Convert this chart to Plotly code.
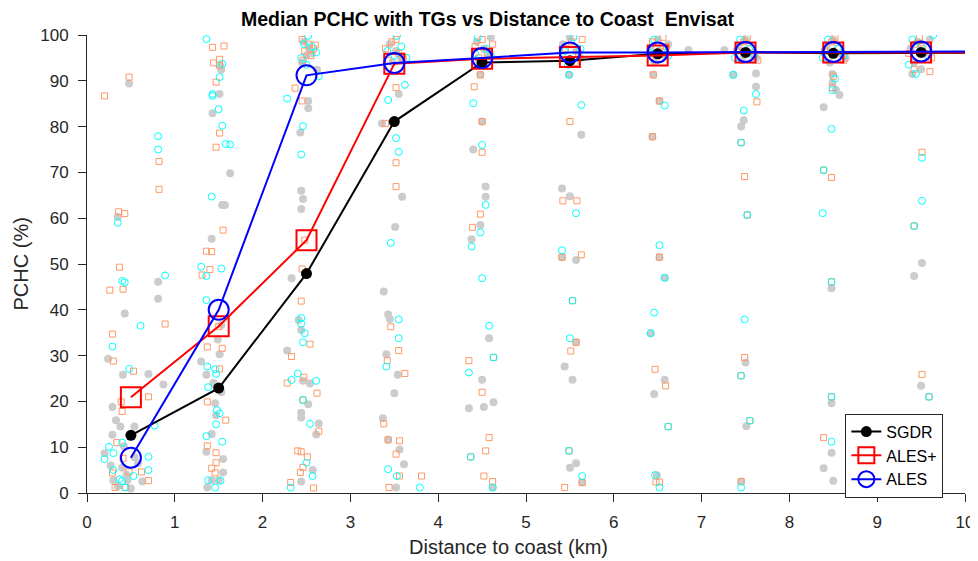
import plotly.graph_objects as go

# ---------------- data ----------------
bins = [0.5, 1.5, 2.5, 3.5, 4.5, 5.5, 6.5, 7.5, 8.5, 9.5, 10.5]
sgdr_med = [12.6, 22.9, 47.9, 81.1, 94.0, 94.4, 95.9, 96.2, 96.0, 96.2, 96.2]
alesp_med = [20.9, 36.4, 55.2, 93.7, 94.8, 95.2, 95.5, 96.2, 96.2, 96.2, 96.2]
ales_med = [7.7, 40.0, 91.2, 93.9, 95.0, 96.2, 96.2, 96.3, 96.3, 96.4, 96.4]

# individual tide-gauge values (jittered distance, PCHC %)
sgdr_x = [0.48, 0.35, 0.81, 0.81, 0.43, 0.24, 0.41, 0.70, 0.87, 0.29, 0.33, 0.38, 0.54, 0.29, 0.20, 0.54, 0.30, 0.46, 0.63, 0.40, 0.45, 0.35, 0.50, 0.58, 0.27, 0.42,
          1.52, 1.53, 1.51, 1.43, 1.63, 1.54, 1.57, 1.42, 1.53, 1.51, 1.30, 1.36, 1.46, 1.42, 1.36, 1.55, 1.42, 1.50, 1.37, 1.47, 1.53, 1.49, 1.55, 1.44,
          2.47, 2.53, 2.50, 2.45, 2.56, 2.62, 2.52, 2.52, 2.43, 2.44, 2.46, 2.44, 2.33, 2.41, 2.44, 2.28, 2.46, 2.54, 2.52, 2.44, 2.44, 2.64, 2.61, 2.57, 2.44,
          3.45, 3.52, 3.58, 3.48, 3.55, 3.36, 3.59, 3.51, 3.38, 3.43, 3.45, 3.41, 3.54, 3.50, 3.37, 3.43, 3.56, 3.61, 3.52,
          4.44, 4.52, 4.58, 4.47, 4.60, 4.48, 4.50, 4.40, 4.54, 4.54, 4.48, 4.38, 4.58, 4.50, 4.35, 4.52, 4.63, 4.62,
          5.42, 5.50, 5.57, 5.62, 5.47, 5.49, 5.63, 5.41, 5.50, 5.41, 5.57, 5.44, 5.53, 5.57, 5.57, 5.50, 5.64,
          6.42, 6.50, 6.58, 6.62, 6.46, 6.45, 6.52, 6.44, 6.52, 6.58, 6.42, 6.58, 6.46, 6.49, 6.85,
          7.42, 7.50, 7.58, 7.62, 7.46, 7.62, 7.36, 7.62, 7.48, 7.45, 7.50, 7.51, 7.45, 7.26,
          8.42, 8.50, 8.58, 8.64, 8.46, 8.49, 8.53, 8.49, 8.57, 8.39, 8.48, 8.48, 8.48, 8.39, 8.50,
          9.38, 9.46, 9.54, 9.60, 9.42, 9.50, 9.40, 9.51, 9.42, 9.50]
sgdr_y = [89.4, 60.3, 46.1, 42.4, 39.2, 29.3, 25.8, 26.0, 23.7, 18.8, 15.9, 14.5, 14.5, 12.7, 8.7, 7.8, 2.8, 2.8, 2.5, 5.5, 4.0, 1.5, 1.0, 6.5, 6.0, 10.2,
          93.1, 92.4, 87.1, 82.9, 69.8, 62.9, 62.9, 55.5, 36.7, 30.3, 28.7, 25.8, 19.6, 12.9, 9.0, 7.4, 2.8, 2.8, 1.2, 17.0, 22.0, 33.5, 4.5, 24.0,
          98.5, 97.0, 95.5, 94.0, 96.0, 92.4, 85.6, 84.0, 78.7, 66.0, 64.2, 62.0, 46.9, 37.8, 35.6, 31.1, 24.5, 23.9, 19.4, 17.5, 16.5, 15.2, 12.8, 5.0, 2.5,
          98.0, 96.5, 95.0, 94.0, 87.1, 80.7, 64.7, 58.1, 44.0, 39.0, 38.0, 30.3, 25.8, 21.8, 16.3, 11.6, 9.5, 6.3, 1.2,
          98.5, 97.0, 95.5, 94.0, 99.5, 91.3, 81.1, 75.0, 66.9, 64.7, 58.5, 55.4, 33.8, 24.7, 18.5, 18.8, 19.8, 1.2,
          98.0, 99.5, 96.5, 95.0, 94.5, 91.3, 78.2, 66.5, 64.8, 51.5, 50.9, 27.6, 24.7, 32.9, 6.5, 5.5, 2.3,
          97.0, 99.0, 95.5, 98.0, 94.0, 91.3, 85.6, 77.8, 51.5, 47.0, 34.9, 24.7, 21.6, 3.9, 96.7,
          97.5, 99.0, 96.0, 95.0, 94.5, 91.6, 91.3, 88.7, 81.4, 80.0, 28.5, 14.6, 2.5, 96.7,
          97.5, 99.0, 96.0, 95.0, 94.0, 91.5, 88.0, 89.5, 86.9, 84.2, 44.7, 19.6, 8.8, 5.4, 2.7,
          97.0, 98.5, 96.0, 99.0, 94.0, 92.5, 91.5, 50.2, 47.4, 23.4]

alesp_x = [0.48, 0.20, 0.82, 0.82, 0.36, 0.43, 0.37, 0.41, 0.26, 0.89, 0.29, 0.30, 0.53, 0.70, 0.39, 0.40, 0.34, 0.41, 0.29, 0.48, 0.62, 0.70, 0.32, 0.44,
           1.43, 1.56, 1.51, 1.44, 1.51, 1.47, 1.51, 1.47, 1.55, 1.36, 1.42, 1.40, 1.31, 1.50, 1.37, 1.54, 1.51, 1.37, 1.58, 1.37, 1.47, 1.47, 1.42, 1.46,
           2.45, 2.52, 2.58, 2.48, 2.55, 2.46, 2.60, 2.37, 2.45, 2.48, 2.45, 2.44, 2.54, 2.33, 2.28, 2.47, 2.62, 2.46, 2.64, 2.40, 2.44, 2.51, 2.46, 2.43, 2.32, 2.58,
           3.40, 3.47, 3.55, 3.60, 3.43, 3.52, 3.52, 3.40, 3.52, 3.52, 3.46, 3.55, 3.42, 3.62, 3.38, 3.43, 3.56, 3.52, 3.56, 3.81, 3.44,
           4.42, 4.50, 4.56, 4.62, 4.46, 4.48, 4.41, 4.50, 4.50, 4.48, 4.39, 4.63, 4.35, 4.50, 4.58, 4.54, 4.37, 4.52, 4.62,
           5.45, 5.52, 5.60, 5.56, 5.64, 5.50, 5.42, 5.58, 5.41, 5.63, 5.53, 5.57, 5.51, 5.49, 5.64, 5.44,
           6.44, 6.52, 6.60, 6.48, 6.56, 6.45, 6.52, 6.44, 6.52, 6.47, 6.59, 6.62, 6.48, 6.52,
           7.40, 7.48, 7.56, 7.64, 7.52, 7.63, 7.45, 7.49, 7.52, 7.49, 7.45, 7.55, 7.45,
           8.40, 8.48, 8.56, 8.62, 8.52, 8.50, 8.49, 8.39, 8.48, 8.48, 8.48, 8.39,
           9.36, 9.44, 9.52, 9.62, 9.48, 9.42, 9.60, 9.51, 9.42, 9.51, 9.59]
alesp_y = [90.8, 86.7, 72.4, 66.3, 61.4, 61.0, 49.3, 44.5, 44.3, 36.9, 34.7, 28.8, 26.6, 21.0, 19.9, 17.8, 11.0, 7.6, 4.4, 4.6, 4.6, 2.7, 1.2, 1.2,
           97.3, 97.6, 94.7, 93.9, 93.4, 89.7, 78.6, 75.5, 57.4, 52.8, 52.7, 48.8, 47.6, 36.3, 31.9, 31.6, 27.1, 19.9, 15.9, 10.3, 8.8, 6.6, 5.4, 4.4,
           99.0, 98.0, 97.0, 96.5, 95.5, 94.5, 97.8, 88.4, 85.6, 55.2, 48.9, 41.9, 32.5, 29.8, 24.0, 25.3, 21.8, 20.3, 13.5, 9.2, 9.0, 7.9, 5.6, 4.5, 2.3, 1.1,
           97.0, 98.5, 96.0, 95.0, 94.5, 99.0, 88.5, 80.7, 72.1, 66.9, 36.3, 31.1, 28.9, 26.1, 15.1, 11.6, 11.4, 8.5, 3.7, 3.7, 1.2,
           97.5, 99.0, 96.0, 98.0, 95.0, 91.3, 88.7, 81.1, 74.4, 60.9, 58.0, 29.6, 28.9, 22.0, 12.1, 9.2, 7.9, 3.7, 2.5,
           97.0, 98.5, 96.0, 94.0, 99.0, 81.1, 63.8, 63.8, 51.5, 52.0, 42.0, 32.9, 31.0, 9.2, 2.3, 1.2,
           98.5, 96.5, 97.5, 94.5, 99.5, 91.3, 85.6, 77.8, 51.5, 27.0, 23.4, 14.5, 2.4, 2.4,
           96.5, 98.5, 97.0, 94.5, 99.5, 85.4, 76.5, 69.1, 60.7, 29.6, 25.6, 15.8, 2.5,
           96.5, 98.5, 97.0, 94.5, 99.5, 91.0, 88.5, 70.5, 68.9, 46.1, 21.0, 12.1,
           96.0, 98.0, 97.0, 95.0, 99.5, 92.5, 92.0, 74.4, 58.3, 25.9, 21.0]

ales_x = [0.81, 0.81, 0.35, 0.89, 0.40, 0.43, 0.61, 0.29, 0.48, 0.77, 0.40, 0.25, 0.30, 0.20, 0.70, 0.70, 0.30, 0.53, 0.37, 0.40, 0.43,
          1.36, 1.54, 1.51, 1.43, 1.43, 1.50, 1.54, 1.58, 1.63, 1.42, 1.30, 1.53, 1.36, 1.36, 1.37, 1.46, 1.47, 1.38, 1.48, 1.51, 1.47, 1.36, 1.54, 1.38, 1.52, 1.46,
          2.52, 2.47, 2.56, 2.44, 2.50, 2.61, 2.64, 2.28, 2.46, 2.44, 2.44, 2.44, 2.48, 2.46, 2.40, 2.33, 2.61, 2.46, 2.54, 2.50, 2.57, 2.32,
          3.53, 3.42, 3.50, 3.58, 3.64, 3.62, 3.43, 3.52, 3.55, 3.46, 3.55, 3.55, 3.41, 3.43, 3.53, 3.79,
          4.45, 4.55, 4.60, 4.42, 4.40, 4.50, 4.54, 4.48, 4.38, 4.50, 4.58, 4.63, 4.35, 4.37, 4.62,
          5.44, 5.54, 5.62, 5.48, 5.49, 5.63, 5.57, 5.41, 5.53, 5.50, 5.49, 5.64,
          6.46, 6.55, 6.62, 6.42, 6.58, 6.52, 6.58, 6.46, 6.42, 6.62, 6.47, 6.52,
          7.44, 7.54, 7.60, 7.38, 7.36, 7.62, 7.48, 7.45, 7.52, 7.49, 7.45, 7.55, 7.45,
          8.44, 8.55, 8.62, 8.38, 8.52, 8.49, 8.48, 8.39, 8.38, 8.48, 8.48, 8.48,
          9.40, 9.50, 9.58, 9.36, 9.64, 9.44, 9.51, 9.51, 9.42, 9.59]
ales_y = [77.9, 75.0, 59.0, 47.5, 46.3, 46.0, 36.5, 32.0, 27.1, 14.7, 11.0, 10.1, 8.7, 7.4, 7.9, 5.0, 5.0, 3.7, 3.0, 2.6, 1.2,
          99.1, 93.7, 90.8, 87.1, 86.7, 83.8, 80.2, 76.2, 76.1, 64.7, 49.4, 49.0, 47.4, 42.1, 27.6, 27.0, 26.0, 23.1, 18.1, 17.4, 15.0, 12.4, 11.2, 2.8, 2.7, 1.2,
          99.8, 98.0, 97.5, 95.0, 93.5, 96.2, 91.0, 86.1, 80.1, 73.9, 38.2, 37.0, 34.9, 32.9, 26.1, 24.7, 24.5, 20.3, 15.1, 6.6, 3.7, 1.2,
          99.8, 96.5, 95.5, 97.5, 95.0, 89.1, 85.8, 77.5, 74.5, 54.6, 37.9, 33.8, 27.6, 5.2, 3.7, 1.2,
          99.5, 97.0, 95.5, 96.0, 85.1, 76.0, 62.9, 56.9, 53.8, 46.9, 36.5, 29.6, 26.3, 7.9, 1.2,
          96.5, 99.5, 97.0, 93.5, 91.3, 84.7, 61.1, 53.0, 42.0, 33.8, 9.2, 3.7,
          99.0, 97.0, 95.5, 96.0, 84.6, 54.1, 47.0, 39.4, 34.9, 14.5, 3.9, 1.2,
          99.0, 97.0, 95.5, 95.0, 91.3, 87.1, 83.5, 76.5, 60.7, 37.9, 25.6, 15.8, 1.2,
          99.0, 97.0, 95.5, 95.0, 90.5, 88.0, 79.5, 70.5, 61.1, 46.1, 21.0, 11.2,
          99.0, 97.5, 95.5, 93.5, 100.0, 91.5, 73.2, 63.8, 58.3, 21.0]

x_ticks = list(range(0, 11))
y_ticks = list(range(0, 101, 10))

title_text = "Median PCHC with TGs vs Distance to Coast  Envisat"
xlabel = "Distance to coast (km)"
ylabel = "PCHC (%)"

# ---------------- figure ----------------
FONT = "Liberation Sans, Arial, Helvetica, sans-serif"
AX = "#262626"

fig = go.Figure()

fig.add_trace(go.Scatter(x=sgdr_x, y=sgdr_y, mode="markers", showlegend=False,
                         marker=dict(symbol="circle", size=8, color="#cccccc", line=dict(width=0)),
                         hoverinfo="skip"))
fig.add_trace(go.Scatter(x=alesp_x, y=alesp_y, mode="markers", showlegend=False,
                         marker=dict(symbol="square-open", size=6, color="#ff9966", line=dict(width=1)),
                         hoverinfo="skip"))
fig.add_trace(go.Scatter(x=ales_x, y=ales_y, mode="markers", showlegend=False,
                         marker=dict(symbol="circle-open", size=7, color="#00ffff", line=dict(width=1)),
                         hoverinfo="skip"))

fig.add_trace(go.Scatter(x=bins, y=sgdr_med, mode="lines+markers", name="SGDR",
                         line=dict(color="black", width=2),
                         marker=dict(symbol="circle", size=11, color="black")))
fig.add_trace(go.Scatter(x=bins, y=alesp_med, mode="lines+markers", name="ALES+",
                         line=dict(color="#ff0000", width=2),
                         marker=dict(symbol="square-open", size=20, color="#ff0000", line=dict(width=2))))
fig.add_trace(go.Scatter(x=bins, y=ales_med, mode="lines+markers", name="ALES",
                         line=dict(color="#0000ff", width=2),
                         marker=dict(symbol="circle-open", size=20, color="#0000ff", line=dict(width=2))))

# page-pixel targets (the page places the figure 8 px from the top-left corner)
OFF = 8
W, H = 978, 561
PL, PR, PT, PB = 86.5, 965.5, 34.5, 492.7
L, R, T, B = PL - OFF, W - (PR - OFF), PT - OFF, H - (PB - OFF)
pw, ph = PR - PL, PB - PT

def px_x(p):
    return (p - PL) / pw

def px_y(p):
    return (PB - p) / ph

axis_common = dict(ticks="outside", ticklen=8, tickwidth=1, tickcolor=AX,
                   showline=True, linecolor=AX, linewidth=1, showgrid=False,
                   zeroline=False, tickfont=dict(family=FONT, size=17, color=AX),
                   ticklabelstandoff=6, automargin=False, mirror=False)

fig.update_layout(
    template="none",
    width=W, height=H,
    margin=dict(l=L, r=R, t=T, b=B, pad=0, autoexpand=False),
    paper_bgcolor="white", plot_bgcolor="white",
    font=dict(family=FONT, size=17, color=AX),
    showlegend=True,
    legend=dict(x=px_x(845.7), y=px_y(413.3), xanchor="left", yanchor="top",
                bgcolor="white", bordercolor=AX, borderwidth=1,
                font=dict(family=FONT, size=16, color="black"),
                itemsizing="trace", tracegroupgap=0),
    xaxis=dict(range=[0, 10], tickvals=x_ticks, **axis_common),
    yaxis=dict(range=[0, 100], tickvals=y_ticks, **axis_common),
    annotations=[
        dict(text="<b>" + title_text + "</b>", xref="paper", yref="paper",
             x=px_x(487.5), y=px_y(18), xanchor="center", yanchor="middle",
             showarrow=False, font=dict(family=FONT, size=19.5, color="black")),
        dict(text=xlabel, xref="paper", yref="paper",
             x=px_x(508.5), y=px_y(547), xanchor="center", yanchor="middle",
             showarrow=False, font=dict(family=FONT, size=20, color=AX)),
        dict(text=ylabel, xref="paper", yref="paper", textangle=-90,
             x=px_x(20), y=px_y(263.5), xanchor="center", yanchor="middle",
             showarrow=False, font=dict(family=FONT, size=20, color=AX)),
    ],
)

fig.write_html("out.html")
